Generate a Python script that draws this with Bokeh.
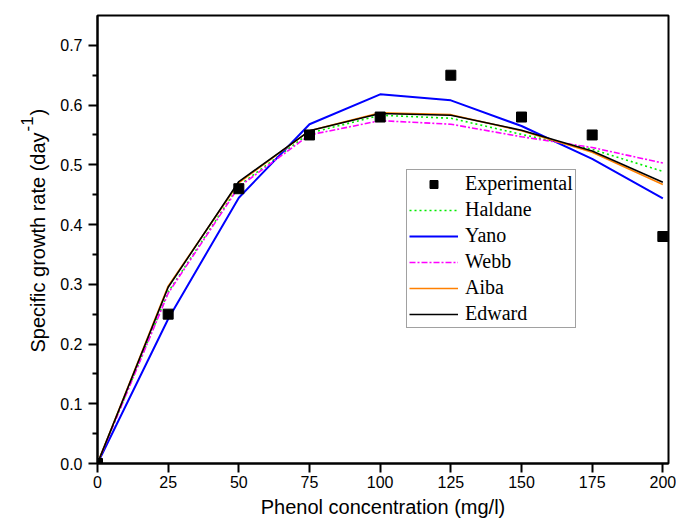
import math
from bokeh.plotting import figure
from bokeh.layouts import row
from bokeh.models import Legend, LegendItem, Label, FixedTicker, Range1d
from bokeh.embed import file_html
from bokeh.resources import INLINE

# ---- data ----
conc = [0, 25, 50, 75, 100, 125, 150, 175, 200]
experimental = [0.0, 0.25, 0.46, 0.55, 0.58, 0.65, 0.58, 0.55, 0.38]
haldane = [0.0, 0.287, 0.465, 0.553, 0.583, 0.578, 0.551, 0.526, 0.489]
yano = [0.0, 0.242, 0.445, 0.568, 0.618, 0.608, 0.565, 0.510, 0.444]
webb = [0.0, 0.285, 0.463, 0.550, 0.574, 0.568, 0.547, 0.529, 0.503]
aiba = [0.0, 0.297, 0.470, 0.557, 0.587, 0.584, 0.557, 0.521, 0.467]
edward = [0.0, 0.295, 0.472, 0.557, 0.586, 0.583, 0.558, 0.523, 0.471]

x_ticks = [0, 25, 50, 75, 100, 125, 150, 175, 200]
y_ticks = [0.0, 0.1, 0.2, 0.3, 0.4, 0.5, 0.6, 0.7]
y_minor = [0.05, 0.15, 0.25, 0.35, 0.45, 0.55, 0.65]

FONT = "Liberation Sans"

# ---- narrow strip holding the rotated y-axis title ----
side = figure(width=50, height=520, output_backend="svg", toolbar_location=None,
              x_range=Range1d(0, 50), y_range=Range1d(0, 520),
              x_axis_type=None, y_axis_type=None,
              min_border_left=0, min_border_right=0, min_border_top=0, min_border_bottom=0)
side.outline_line_color = None
side.xgrid.visible = False
side.ygrid.visible = False
side.background_fill_color = "white"
side.border_fill_color = "white"

lab_main = Label(x=37, y=111, x_units="screen", y_units="screen",
                 text="Specific growth rate (day", angle=math.pi / 2,
                 text_align="left", text_baseline="alphabetic",
                 text_font=FONT, text_font_size="20px", text_color="black")
lab_sup = Label(x=26, y=332, x_units="screen", y_units="screen",
                text="-1", angle=math.pi / 2,
                text_align="left", text_baseline="alphabetic",
                text_font=FONT, text_font_size="17px", text_color="black")
lab_close = Label(x=37, y=348, x_units="screen", y_units="screen",
                  text=")", angle=math.pi / 2,
                  text_align="left", text_baseline="alphabetic",
                  text_font=FONT, text_font_size="20px", text_color="black")
for lab in (lab_main, lab_sup, lab_close):
    side.add_layout(lab)

# ---- main chart ----
p = figure(width=626, height=520, output_backend="svg", toolbar_location=None,
           x_range=Range1d(0, 202), y_range=Range1d(0, 0.75),
           min_border_left=47, min_border_right=8, min_border_top=15, min_border_bottom=56)
p.background_fill_color = "white"
p.border_fill_color = "white"
p.outline_line_color = "black"
p.outline_line_width = 2
p.xgrid.visible = False
p.ygrid.visible = False

for ax in (p.xaxis[0], p.yaxis[0]):
    ax.axis_line_width = 2
    ax.axis_line_color = "black"
    ax.major_tick_line_width = 2
    ax.minor_tick_line_width = 2
    ax.major_tick_in = 0
    ax.major_tick_out = 9
    ax.minor_tick_in = 0
    ax.minor_tick_out = 5
    ax.major_label_text_font = FONT
    ax.major_label_text_font_size = "16px"
    ax.major_label_text_color = "black"

p.xaxis.ticker = FixedTicker(ticks=x_ticks)
p.yaxis.ticker = FixedTicker(ticks=y_ticks, minor_ticks=y_minor)
p.yaxis.major_label_overrides = {t: f"{t:.1f}" for t in y_ticks}
p.xaxis.major_label_standoff = 3
p.yaxis.major_label_standoff = 6

p.xaxis.axis_label = "Phenol concentration (mg/l)"
p.xaxis.axis_label_text_font = FONT
p.xaxis.axis_label_text_font_size = "20px"
p.xaxis.axis_label_text_font_style = "normal"
p.xaxis.axis_label_text_color = "black"
p.xaxis.axis_label_standoff = 5

r_hal = p.line(conc, haldane, line_color="#00ee00", line_width=1.6, line_dash="2 3")
r_yano = p.line(conc, yano, line_color="#0000ff", line_width=2)
r_webb = p.line(conc, webb, line_color="#ff00ff", line_width=1.6, line_dash="6 2 2 2")
r_aiba = p.line(conc, aiba, line_color="#ff8000", line_width=1.6)
r_edw = p.line(conc, edward, line_color="black", line_width=1.6)
r_exp = p.scatter(conc, experimental, marker="square", size=10,
                  fill_color="black", line_color="black")

legend = Legend(items=[
    LegendItem(label="Experimental", renderers=[r_exp]),
    LegendItem(label="Haldane", renderers=[r_hal]),
    LegendItem(label="Yano", renderers=[r_yano]),
    LegendItem(label="Webb", renderers=[r_webb]),
    LegendItem(label="Aiba", renderers=[r_aiba]),
    LegendItem(label="Edward", renderers=[r_edw]),
], location=(309, 135))
legend.margin = 0
legend.padding = 2
legend.spacing = 3
legend.glyph_width = 49
legend.glyph_height = 20
legend.label_height = 20
legend.label_standoff = 7
legend.label_text_font = "Liberation Serif"
legend.label_text_font_size = "20px"
legend.label_text_color = "black"
legend.border_line_color = "#444444"
legend.border_line_width = 1
legend.background_fill_color = "white"
legend.background_fill_alpha = 1
p.add_layout(legend, "center")

layout = row(side, p, spacing=0)
open("out.html", "w").write(file_html(layout, INLINE))
